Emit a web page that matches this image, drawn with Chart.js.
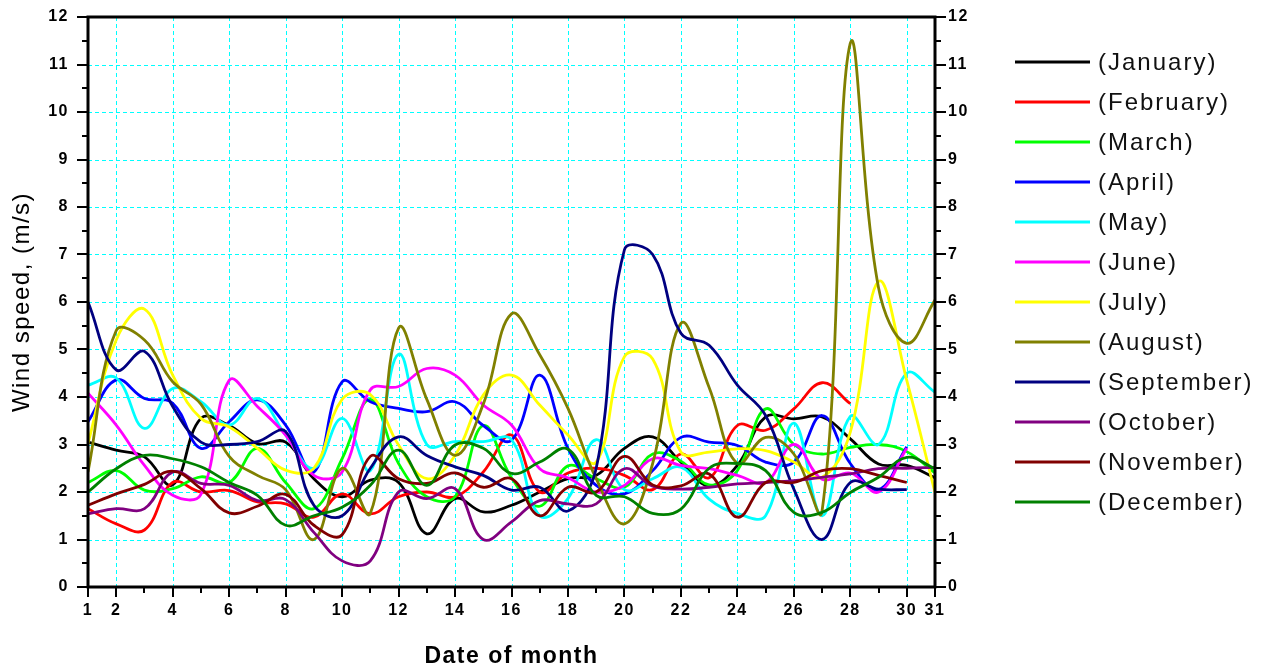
<!DOCTYPE html>
<html><head><meta charset="utf-8">
<script src="https://cdn.jsdelivr.net/npm/chart.js@4"></script>
<style>html,body{margin:0;padding:0;background:#fff;overflow:hidden}canvas{display:block}</style>
</head><body>
<canvas id="c" width="1277" height="669"></canvas>
<script>
// ---- data ----
const days = [1,2,3,4,5,6,7,8,9,10,11,12,13,14,15,16,17,18,19,20,21,22,23,24,25,26,27,28,29,30,31];
const xTickValues = [1,2,4,6,8,10,12,14,16,18,20,22,24,26,28,30,31];
const yTickValues = [0,1,2,3,4,5,6,7,8,9,10,11,12];
const monthLabels = ['(January)','(February)','(March)','(April)','(May)','(June)','(July)','(August)','(September)','(October)','(November)','(December)'];

const january  = [3.05,2.88,2.74,2.15,3.55,3.4,3.02,3.05,2.28,1.9,2.25,2.2,1.12,1.86,1.58,1.72,2.0,2.28,2.35,2.92,3.16,2.63,2.13,2.56,3.58,3.54,3.58,3.12,2.59,2.56,2.3];
const february = [1.65,1.33,1.2,2.2,2.0,2.03,1.79,1.75,1.47,1.96,1.54,1.9,2.0,1.9,2.42,3.2,2.0,2.4,2.5,2.35,2.05,2.8,2.3,3.4,3.3,3.75,4.3,3.86];
const march    = [2.2,2.45,2.04,2.07,2.32,2.2,2.92,2.2,1.65,2.7,3.95,2.6,1.9,1.9,3.4,2.3,1.7,2.55,2.28,2.1,2.8,2.65,2.15,2.45,3.75,3.0,2.8,2.94,3.0,2.85,2.4];
const april    = [3.48,4.36,3.97,3.87,2.92,3.48,3.94,3.41,2.42,4.32,3.9,3.76,3.69,3.9,3.4,3.09,4.46,2.92,2.14,1.96,2.45,3.15,3.05,2.98,2.63,2.63,3.61,2.6,2.05,2.95];
const may      = [4.25,4.4,3.34,4.18,3.9,3.41,3.97,3.2,2.5,3.55,2.45,4.9,3.0,3.06,3.06,3.1,1.5,1.86,3.1,2.05,2.28,2.52,1.85,1.55,1.5,3.45,1.5,3.59,3.0,4.5,4.1];
const june     = [4.08,3.41,2.56,1.93,1.95,4.35,3.8,3.2,2.35,2.42,4.15,4.22,4.6,4.46,3.83,3.41,2.49,2.3,2.0,2.14,2.7,2.56,2.49,2.35,2.2,3.0,2.27,2.4,2.0,2.92];
const july     = [3.02,5.2,5.85,4.46,3.55,3.37,2.92,2.46,2.5,3.95,4.05,2.99,2.28,2.77,4.04,4.46,3.83,3.2,2.63,4.85,4.8,2.84,2.84,2.91,2.87,2.63,2.31,3.26,6.43,4.35,1.99];
const august   = [2.42,5.4,5.2,4.32,3.85,2.75,2.35,2.05,1.0,2.5,1.55,5.45,3.95,2.77,3.85,5.75,4.89,3.76,2.28,1.33,2.6,5.55,4.2,2.6,3.15,2.8,1.6,11.45,6.3,5.13,6.04];
const september= [6.0,4.57,4.96,3.8,3.05,3.0,3.06,3.27,1.72,1.5,2.5,3.16,2.77,2.53,2.35,2.04,2.1,1.6,2.5,7.1,7.0,5.34,5.09,4.25,3.61,2.06,1.0,2.2,2.06,2.05];
const october  = [1.54,1.65,1.65,2.42,2.18,2.14,1.82,1.84,1.15,0.55,0.55,2.0,1.86,2.07,1.0,1.37,1.82,1.75,1.75,2.49,2.12,2.06,2.1,2.17,2.2,2.24,2.31,2.38,2.49,2.5,2.52];
const november = [1.72,1.96,2.16,2.44,2.07,1.56,1.7,1.95,1.3,1.1,2.75,2.28,2.18,2.4,2.1,2.28,1.5,2.1,2.0,2.75,2.15,2.13,2.38,1.47,2.2,2.2,2.45,2.49,2.35,2.2];
const december = [2.0,2.49,2.77,2.7,2.53,2.2,1.93,1.3,1.5,1.68,2.14,2.88,2.14,2.99,2.92,2.39,2.63,2.9,1.93,1.9,1.55,1.64,2.5,2.6,2.45,1.57,1.57,1.99,2.31,2.73,2.49];

const series = [january,february,march,april,may,june,july,august,september,october,november,december];
const colors = ['#000000','#ff0000','#00ff00','#0000ff','#00ffff','#ff00ff','#ffff00','#808000','#000080','#800080','#800000','#008000'];

const FONT = "'Liberation Sans', Arial, sans-serif";

const noPad = s => { s.paddingTop = 0; s.paddingBottom = 0; s.paddingLeft = 0; s.paddingRight = 0; };

const framePlugin = {
  id: 'frame',
  beforeDraw(chart) { chart.ctx.letterSpacing = '1.5px'; },
  beforeDatasetsDraw(chart) {
    const {ctx, chartArea: a, scales: {x, y}} = chart;
    ctx.save();
    ctx.strokeStyle = '#00ffff';
    ctx.lineWidth = 1;
    ctx.setLineDash([4, 3]);
    ctx.beginPath();
    for (const v of xTickValues) {
      if (v === x.min || v === x.max) continue;
      const px = Math.round(x.getPixelForValue(v)) + 0.5;
      ctx.moveTo(px, a.top); ctx.lineTo(px, a.bottom);
    }
    for (const v of yTickValues) {
      if (v === y.min || v === y.max) continue;
      const py = Math.round(y.getPixelForValue(v)) + 0.5;
      ctx.moveTo(a.left, py); ctx.lineTo(a.right, py);
    }
    ctx.stroke();
    ctx.restore();
  },
  afterDatasetsDraw(chart) {
    const {ctx, chartArea: a, scales: {x, y}} = chart;
    ctx.save();
    ctx.strokeStyle = '#000';
    ctx.lineWidth = 3;
    ctx.setLineDash([]);
    ctx.strokeRect(a.left, a.top, a.right - a.left, a.bottom - a.top);
    ctx.lineWidth = 2;
    ctx.beginPath();
    for (let d = days[0]; d <= days[days.length - 1]; d++) {
      const major = xTickValues.includes(d);
      const px = Math.round(x.getPixelForValue(d));
      ctx.moveTo(px, a.bottom); ctx.lineTo(px, a.bottom + (major ? 10 : 6));
    }
    for (let v = 0; v <= 12; v += 0.5) {
      const major = Number.isInteger(v);
      const py = Math.round(y.getPixelForValue(v));
      const len = major ? 11 : 6;
      ctx.moveTo(a.left - len, py); ctx.lineTo(a.left, py);
      ctx.moveTo(a.right, py); ctx.lineTo(a.right + len, py);
    }
    ctx.stroke();
    ctx.restore();
  },
  afterDraw(chart) {
    const ctx = chart.ctx;
    ctx.save();
    ctx.letterSpacing = '2px';
    ctx.font = "24px " + FONT;
    ctx.textBaseline = 'middle';
    ctx.textAlign = 'left';
    chart.data.datasets.forEach((ds, i) => {
      const yy = 62 + 40 * i;
      ctx.strokeStyle = ds.borderColor;
      ctx.lineWidth = 3;
      ctx.beginPath();
      ctx.moveTo(1015, yy); ctx.lineTo(1090, yy);
      ctx.stroke();
      ctx.fillStyle = '#111';
      ctx.fillText(ds.label, 1098, yy + 1);
    });
    ctx.restore();
  }
};

new Chart(document.getElementById('c'), {
  type: 'line',
  data: {
    datasets: series.map((vals, i) => ({
      label: monthLabels[i],
      data: vals.map((v, j) => ({x: days[j], y: v})),
      borderColor: colors[i],
      backgroundColor: colors[i],
      borderWidth: 2.8,
      pointRadius: 0,
      tension: 0.4,
      fill: false,
      order: 11 - i
    }))
  },
  options: {
    responsive: false,
    animation: false,
    devicePixelRatio: 1,
    layout: {padding: {top: 17, right: 302, bottom: 0, left: 0}},
    plugins: {legend: {display: false}, tooltip: {enabled: false}},
    scales: {
      x: {
        type: 'linear', position: 'bottom', min: 1, max: 31,
        afterBuildTicks: s => { s.ticks = xTickValues.map(v => ({value: v})); },
        afterFit: s => { s.height = 82; noPad(s); },
        grid: {display: false, drawTicks: false},
        border: {display: false},
        ticks: {autoSkip: false, maxRotation: 0, minRotation: 0, padding: 14, color: '#000',
                font: {family: FONT, size: 16, weight: 'bold'}, callback: v => String(v)},
        title: {display: true, text: 'Date of month', color: '#000',
                font: {family: FONT, size: 23, weight: 'bold', lineHeight: 1.1}, padding: {top: 0, bottom: 0}}
      },
      y: {
        type: 'linear', position: 'left', min: 0, max: 12,
        afterBuildTicks: s => { s.ticks = yTickValues.map(v => ({value: v})); },
        afterFit: s => { s.width = 88; noPad(s); },
        grid: {display: false, drawTicks: false},
        border: {display: false},
        ticks: {padding: 19, color: '#000', font: {family: FONT, size: 16, weight: 'bold'}},
        title: {display: true, text: 'Wind speed, (m/s)', color: '#000',
                font: {family: FONT, size: 24, lineHeight: 1.2}, padding: {top: 8, bottom: 0}}
      },
      y2: {
        type: 'linear', position: 'right', min: 0, max: 12,
        afterBuildTicks: s => { s.ticks = yTickValues.map(v => ({value: v})); },
        afterFit: s => { s.width = 40; noPad(s); },
        grid: {display: false, drawTicks: false},
        border: {display: false},
        ticks: {padding: 13, color: '#000', font: {family: FONT, size: 16, weight: 'bold'}}
      }
    }
  },
  plugins: [framePlugin]
});
</script>
</body></html>
